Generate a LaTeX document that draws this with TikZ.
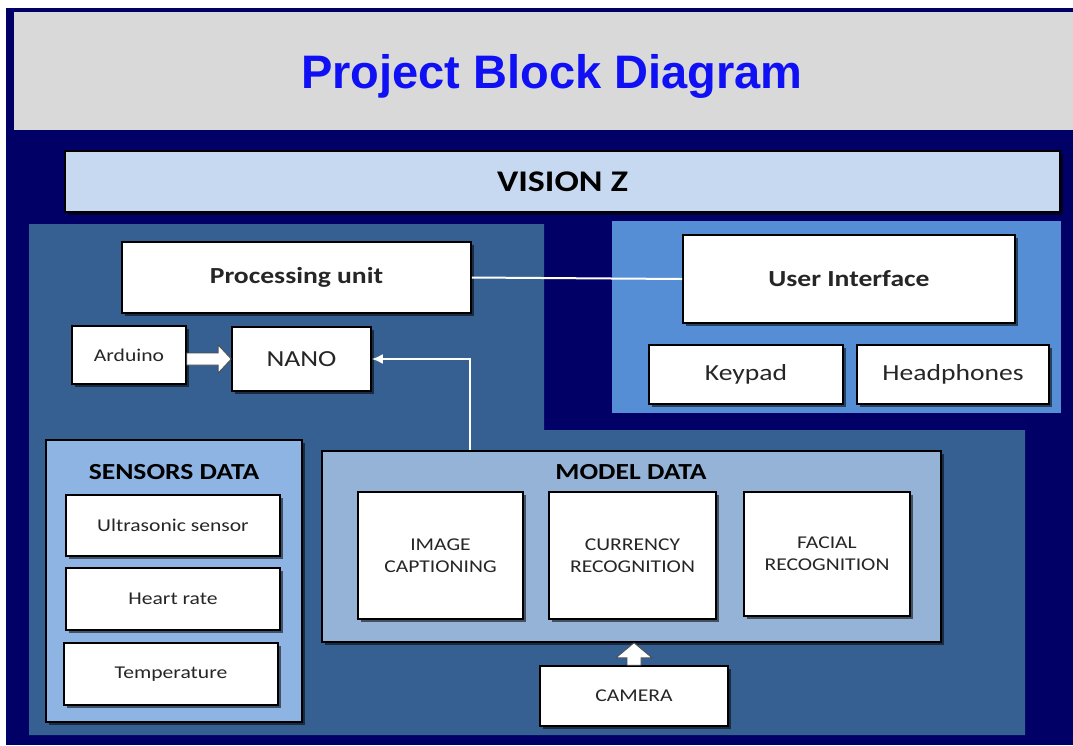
\documentclass[tikz,border=0pt]{standalone}
\usepackage{fontspec}
\setmainfont{Carlito}[FakeStretch=1.2]
\newfontfamily\titlefont{Liberation Sans}
\usetikzlibrary{shadows,calc,arrows.meta}
\definecolor{navybg}{RGB}{0,0,102}
\definecolor{midpanel}{RGB}{54,96,146}
\definecolor{uipanel}{RGB}{85,142,213}
\definecolor{senspanel}{RGB}{142,180,227}
\definecolor{modelpanel}{RGB}{149,179,215}
\definecolor{visionfill}{RGB}{198,217,241}
\definecolor{titlegray}{RGB}{217,217,217}
\definecolor{titleblue}{RGB}{16,16,245}
\definecolor{txt}{RGB}{38,38,38}
\tikzset{
  shad/.style={drop shadow={shadow xshift=2.5pt,shadow yshift=-2.5pt,opacity=0.55,fill=black}},
  box/.style={draw=black,line width=1.6pt,fill=white,inner sep=0pt,align=center,text=txt,shad},
  panel/.style={draw=black,line width=1.6pt,inner sep=0pt,shad},
  hdr/.style={font=\bfseries\fontsize{23}{27}\selectfont,text=black},
  bigtxt/.style={font=\fontsize{23}{27}\selectfont},
  smalltxt/.style={font=\fontsize{18}{22}\selectfont},
  conn/.style={white,line width=2pt},
  blockarrow/.style={fill=white,draw=black!70,line width=0.8pt,line join=miter}
}
\begin{document}
\begin{tikzpicture}[x=1pt,y=-1pt]
\useasboundingbox (0,0) rectangle (1073,745);
\fill[white] (0,0) rectangle (1073,745);
\fill[navybg] (6,8) rectangle (1073,745);
\fill[titlegray] (14,12) rectangle (1073,130);
\node[font=\titlefont\bfseries\fontsize{47}{52}\selectfont,text=titleblue,anchor=base] (title) at (552,88) {Project Block Diagram};

\node[panel,fill=visionfill,minimum width=995pt,minimum height=61pt,font=\bfseries\fontsize{30}{34}\selectfont] (vision) at (562.5,181.5) {VISION Z};

% large panels
\fill[midpanel] (29,224) -- (544,224) -- (544,430) -- (1025,430) -- (1025,735) -- (29,735) -- cycle;
\fill[uipanel] (612,221) rectangle (1061,413);

% top-left boxes
\node[box,minimum width=349pt,minimum height=71pt,font=\bfseries\fontsize{23}{27}\selectfont] (proc) at (296.5,277.5) {Processing unit};
\node[box,smalltxt,minimum width=114pt,minimum height=58pt] (ard) at (129,355) {Arduino};
\node[box,bigtxt,minimum width=139pt,minimum height=64pt] (nano) at (301.5,359) {NANO};

% user interface
\node[box,minimum width=332pt,minimum height=88pt,font=\bfseries\fontsize{23}{27}\selectfont] (ui) at (849,279) {User Interface};
\node[box,bigtxt,minimum width=194pt,minimum height=59pt] (keypad) at (746,374.5) {Keypad};
\node[box,bigtxt,minimum width=192pt,minimum height=59pt] (head) at (953,374.5) {Headphones};

% sensors
\node[panel,fill=senspanel,minimum width=256pt,minimum height=282pt] (sens) at (174,581) {};
\node[hdr] (senstitle) at (174,472) {SENSORS DATA};
\node[box,smalltxt,minimum width=214pt,minimum height=61pt] (ultra) at (173,525.5) {Ultrasonic sensor};
\node[box,smalltxt,minimum width=214pt,minimum height=62pt] (heart) at (173,599) {Heart rate};
\node[box,smalltxt,minimum width=214pt,minimum height=62pt] (temp) at (171,674) {Temperature};

% model data
\node[panel,fill=modelpanel,minimum width=619pt,minimum height=191pt] (model) at (631.5,546.5) {};
\node[hdr] (modeltitle) at (631,472) {MODEL DATA};
\node[box,smalltxt,minimum width=165pt,minimum height=127pt] (img) at (440.5,555.5) {IMAGE\\CAPTIONING};
\node[box,smalltxt,minimum width=167pt,minimum height=127pt] (cur) at (632.5,555.5) {CURRENCY\\RECOGNITION};
\node[box,smalltxt,minimum width=166pt,minimum height=124pt] (face) at (827,554) {FACIAL\\RECOGNITION};
\node[box,smalltxt,minimum width=188pt,minimum height=60pt] (cam) at (634,696) {CAMERA};

% connectors
\draw[conn] (proc.east) -- (ui.west);
\coordinate (mtap) at ($(model.north west)!0.24!(model.north east)$);
\draw[conn,-{Latex[length=11pt,width=10pt]}] (mtap) |- (nano.east);

\draw[blockarrow] let \p1=(ard.east), \p2=(nano.west) in
  (\x1,\y2+6pt) -- (\x2-13pt,\y2+6pt) -- (\x2-13pt,\y2+14pt) -- (\x2,\y2)
  -- (\x2-13pt,\y2-14pt) -- (\x2-13pt,\y2-6pt) -- (\x1,\y2-6pt) -- cycle;
\draw[blockarrow] let \p1=(cam.north), \p2=(model.south) in
  (\x1-7pt,\y1) -- (\x1-7pt,\y2-15pt) -- (\x1-18pt,\y2-15pt) -- (\x1,\y2)
  -- (\x1+18pt,\y2-15pt) -- (\x1+7pt,\y2-15pt) -- (\x1+7pt,\y1) -- cycle;
\end{tikzpicture}
\end{document}
